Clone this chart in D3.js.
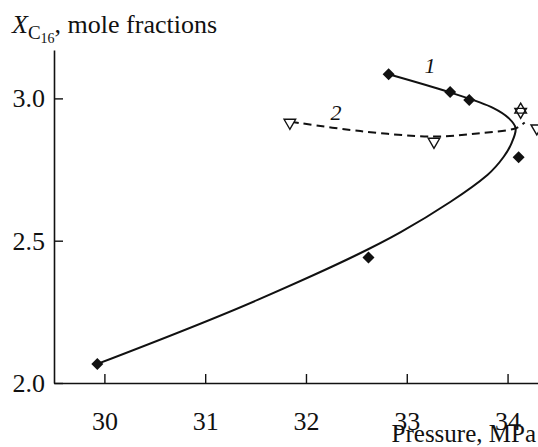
<!DOCTYPE html>
<html>
<head>
<meta charset="utf-8">
<script src="https://cdn.jsdelivr.net/npm/d3@7"></script>
<style>
  body { margin: 0; background: #fff; }
  svg { display: block; }
</style>
</head>
<body>
<script>

// measured points, series 1 (filled diamonds)
let diamondP = [29.93, 32.62, 32.82, 33.43, 33.62, 34.11];
let diamondX = [2.067, 2.441, 3.085, 3.022, 2.994, 2.793];

// series 2 (open triangles, pointing down)
let triP = [31.84, 33.27, 34.13, 34.29];
let triX = [2.915, 2.848, 2.953, 2.895];

// the one upward triangle sitting over a down one
let triUpP = [34.13];
let triUpX = [2.953];

// fitted curve 1 (solid)
let curve1P = [29.93, 31.52, 32.94, 33.80, 33.96, 34.04, 34.08, 34.01, 33.86, 33.42, 32.82];
let curve1X = [2.067, 2.292, 2.530, 2.731, 2.794, 2.843, 2.896, 2.931, 2.966, 3.022, 3.085];

// fitted curve 2 (dashed)
let curve2P = [31.85, 32.54, 33.27, 33.70, 34.08, 34.17];
let curve2X = [2.918, 2.885, 2.866, 2.877, 2.895, 2.915];

let xTicks = [30, 31, 32, 33, 34];
let yTicks = [2.0, 2.5, 3.0];

let canvasW = 538;
let canvasH = 447;
let font = "'Liberation Serif', 'Times New Roman', serif";

let svg = d3.select("body").append("svg")
  .attr("width", canvasW)
  .attr("height", canvasH)
  .style("font-family", font);

let x = d3.scaleLinear().domain([29.5, 34.3]).range([54, 537.8]);
let y = d3.scaleLinear().domain([2.0, 3.17]).range([383, 50]);

// axes, ticks pointing inward
let xAxis = svg.append("g")
  .attr("transform", "translate(0," + y(2.0) + ")")
  .call(d3.axisBottom(x).tickValues(xTicks).tickFormat(d3.format("d"))
    .tickSizeInner(-9).tickSizeOuter(0).tickPadding(29));

let yAxis = svg.append("g")
  .attr("transform", "translate(" + x(29.5) + ",0)")
  .call(d3.axisLeft(y).tickValues(yTicks).tickFormat(d3.format(".1f"))
    .tickSizeInner(-9).tickSizeOuter(0).tickPadding(9));

[xAxis, yAxis].forEach(g => {
  g.select(".domain").attr("stroke", "#111").attr("stroke-width", 1.6);
  g.selectAll(".tick line").attr("stroke", "#111").attr("stroke-width", 1.4);
  g.selectAll(".tick text")
    .attr("fill", "#111")
    .style("font-family", font)
    .style("font-size", "26px");
});

// the curves
let line = d3.line()
  .x(d => x(d[0]))
  .y(d => y(d[1]))
  .curve(d3.curveCatmullRom.alpha(0.5));

svg.append("path")
  .datum(curve1P.map((p, i) => [p, curve1X[i]]))
  .attr("d", line)
  .attr("fill", "none")
  .attr("stroke", "#111")
  .attr("stroke-width", 2);

svg.append("path")
  .datum(curve2P.map((p, i) => [p, curve2X[i]]))
  .attr("d", line)
  .attr("fill", "none")
  .attr("stroke", "#111")
  .attr("stroke-width", 2)
  .attr("stroke-dasharray", "8,5");

// markers
let diamond = d3.symbol().type(d3.symbolSquare).size(72);

svg.selectAll(".dia")
  .data(diamondP.map((p, i) => [p, diamondX[i]]))
  .join("path")
  .attr("class", "dia")
  .attr("d", diamond)
  .attr("transform", d => "translate(" + x(d[0]) + "," + y(d[1]) + ") rotate(45)")
  .attr("fill", "#111");

let tri = d3.symbol().type(d3.symbolTriangle).size(58);

svg.selectAll(".tri")
  .data(triP.map((p, i) => [p, triX[i]]))
  .join("path")
  .attr("class", "tri")
  .attr("d", tri)
  .attr("transform", d => "translate(" + x(d[0]) + "," + y(d[1]) + ") rotate(180)")
  .attr("fill", "#fff")
  .attr("stroke", "#111")
  .attr("stroke-width", 1.4);

svg.selectAll(".triup")
  .data(triUpP.map((p, i) => [p, triUpX[i]]))
  .join("path")
  .attr("class", "triup")
  .attr("d", tri)
  .attr("transform", d => "translate(" + x(d[0]) + "," + (y(d[1]) - 2) + ")")
  .attr("fill", "none")
  .attr("stroke", "#111")
  .attr("stroke-width", 1.4);

// curve numbers
svg.append("text")
  .attr("x", 430).attr("y", 73)
  .attr("text-anchor", "middle")
  .style("font-style", "italic")
  .style("font-size", "22px")
  .attr("fill", "#111")
  .text("1");

svg.append("text")
  .attr("x", 336).attr("y", 120)
  .attr("text-anchor", "middle")
  .style("font-style", "italic")
  .style("font-size", "22px")
  .attr("fill", "#111")
  .text("2");

// axis titles
let yt = svg.append("text")
  .attr("x", 12).attr("y", 33)
  .attr("fill", "#111")
  .style("font-size", "26px");
yt.append("tspan").style("font-style", "italic").text("X");
yt.append("tspan").attr("dy", 6).style("font-size", "19px").text("C");
yt.append("tspan").attr("dy", 4).style("font-size", "14px").text("16");
yt.append("tspan").attr("dy", -10).text(", mole fractions");

svg.append("text")
  .attr("x", 536).attr("y", 442)
  .attr("text-anchor", "end")
  .attr("fill", "#111")
  .style("font-size", "25px")
  .text("Pressure, MPa");

</script>
</body>
</html>
